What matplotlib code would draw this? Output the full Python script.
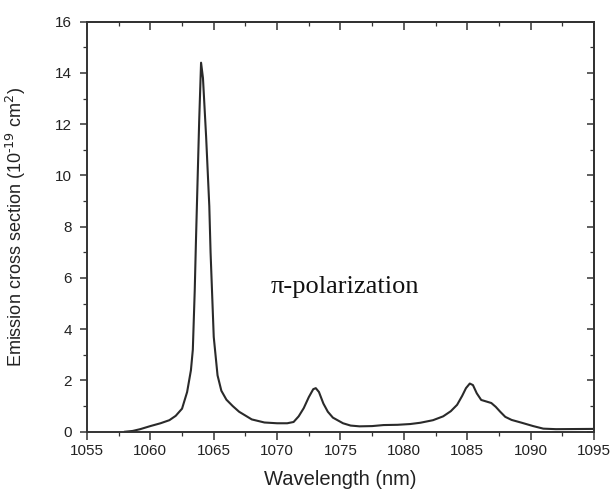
import matplotlib
matplotlib.use("Agg")
import matplotlib.pyplot as plt
from matplotlib.ticker import MultipleLocator

# emission cross section, pi-polarization
wavelength = [1058.0, 1058.6, 1059.2, 1060.0, 1060.8, 1061.5, 1062.0, 1062.5, 1062.9,
              1063.2, 1063.35, 1063.5, 1063.6, 1063.85, 1064.0, 1064.15, 1064.4, 1064.65,
              1064.75, 1065.0, 1065.3, 1065.6, 1066.0, 1066.5, 1067.0, 1068.0, 1069.0,
              1070.0, 1070.8, 1071.3, 1071.7, 1072.1, 1072.5, 1072.85, 1073.05, 1073.3,
              1073.65, 1074.0, 1074.4, 1075.2, 1075.8, 1076.5, 1077.5, 1078.4, 1079.5,
              1080.5, 1081.3, 1082.3, 1083.1, 1083.7, 1084.2, 1084.6, 1084.9, 1085.2,
              1085.45, 1085.75, 1086.1, 1086.5, 1086.9, 1087.25, 1087.6, 1088.0, 1088.5,
              1089.3, 1090.2, 1091.0, 1092.0, 1095.0]
sigma = [0.0, 0.03, 0.1, 0.22, 0.33, 0.45, 0.62, 0.9, 1.55,
         2.4, 3.2, 5.5, 7.5, 12.1, 14.4, 13.8, 11.5, 8.8,
         7.0, 3.7, 2.2, 1.6, 1.25, 1.0, 0.78, 0.48, 0.36,
         0.33, 0.33, 0.38, 0.6, 0.92, 1.35, 1.66, 1.7, 1.55,
         1.1, 0.78, 0.55, 0.33, 0.24, 0.21, 0.22, 0.26, 0.27,
         0.3, 0.35, 0.45, 0.6, 0.8, 1.05, 1.4, 1.7, 1.88,
         1.82, 1.5, 1.24, 1.18, 1.12, 0.97, 0.78, 0.58, 0.46,
         0.35, 0.22, 0.12, 0.1, 0.11]

fig = plt.figure(figsize=(6.13, 4.93), dpi=100)
ax = fig.add_axes([0.1419, 0.1243, 0.8271, 0.8317])

ax.plot(wavelength, sigma, color="#2a2a2a", lw=1.5)

ax.set_xlim(1055, 1095)
ax.set_ylim(0, 16)
ax.xaxis.set_major_locator(MultipleLocator(5))
ax.xaxis.set_minor_locator(MultipleLocator(2.5))
ax.yaxis.set_major_locator(MultipleLocator(2))
ax.yaxis.set_minor_locator(MultipleLocator(1))
ax.tick_params(which="both", direction="out", color="#333333",
               labelsize=11, labelcolor="#222222")
ax.tick_params(which="major", length=5.4, width=1.1)
ax.tick_params(which="minor", length=2.6, width=0.9)
ax.tick_params(axis="x", pad=3.5)
ax.tick_params(axis="y", pad=5.5)
for s in ax.spines.values():
    s.set_color("#333333")
    s.set_linewidth(1.4)

# mirrored ticks on top and right point inward
top = ax.secondary_xaxis("top")
right = ax.secondary_yaxis("right")
for sec in (top, right):
    sec.tick_params(which="both", direction="in", color="#333333",
                    labeltop=False, labelright=False, labelleft=False, labelbottom=False)
    sec.tick_params(which="major", length=5.4, width=1.1)
    sec.tick_params(which="minor", length=2.8, width=0.9)
    for s in sec.spines.values():
        s.set_color("#333333")
        s.set_linewidth(1.4)
top.xaxis.set_major_locator(MultipleLocator(5))
top.xaxis.set_minor_locator(MultipleLocator(2.5))
right.yaxis.set_major_locator(MultipleLocator(2))
right.yaxis.set_minor_locator(MultipleLocator(1))

for lab in ax.get_xticklabels() + ax.get_yticklabels():
    lab.set_fontfamily("Liberation Sans")

plt.rcParams["mathtext.fontset"] = "custom"
plt.rcParams["mathtext.rm"] = "Liberation Sans"
plt.rcParams["mathtext.it"] = "Liberation Sans:italic"

ax.set_xlabel("Wavelength (nm)", fontsize=14.5, family="Liberation Sans", color="#222222")
ax.set_ylabel(r"Emission cross section (10$^{\text{-19}}$ cm$^{\text{2}}$)", fontsize=13,
              family="Liberation Sans", color="#222222")
ax.xaxis.set_label_coords(0.5, -0.093)
ax.yaxis.set_label_coords(-0.116, 0.5)

ax.text(1075.35, 5.66, "\u03c0-polarization", fontsize=19, family="Liberation Serif",
        ha="center", va="center", color="#111111")

fig.savefig("out.png", dpi=100)
